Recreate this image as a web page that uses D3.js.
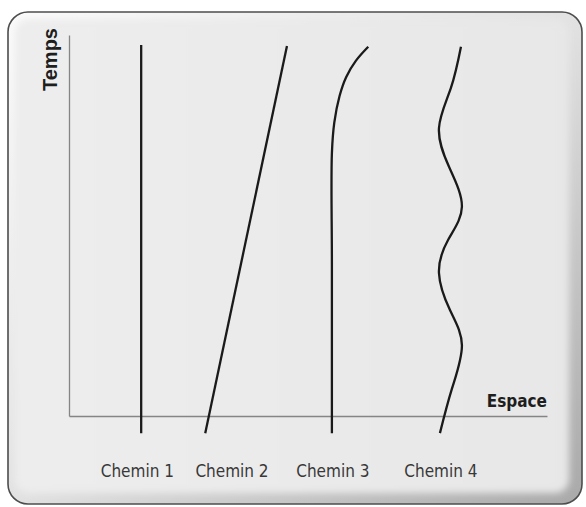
<!DOCTYPE html>
<html>
<head>
<meta charset="utf-8">
<script src="https://cdn.jsdelivr.net/npm/d3@7"></script>
<style>
  html, body { margin: 0; padding: 0; background: #fff; }
  svg { display: block; }
</style>
</head>
<body>
<svg id="chart"></svg>
<script>
// Data: each path is a list of [espace, temps] points
const chemins = ["Chemin 1", "Chemin 2", "Chemin 3", "Chemin 4"];
const labelEspace = [14.3, 34.1, 55.2, 77.8];

const chemin1 = [[15.1, -4.5], [15.1, 97.4]];
const chemin2 = [[28.5, -4.5], [45.6, 97.1]];
const chemin3 = [[55.0, -4.5], [55.0, 40.0], [55.0, 69.0], [55.5, 77.0], [56.6, 84.0],
                 [58.0, 89.0], [60.0, 93.2], [62.6, 96.9]];
const chemin4 = [[77.6, -4.5], [80.1, 7.1], [82.2, 18.6], [79.7, 27.8], [77.4, 37.5],
                 [79.3, 46.2], [82.2, 54.9], [79.5, 65.4], [77.4, 75.6], [79.9, 86.1],
                 [82.0, 96.9]];
const paths = [chemin1, chemin2, chemin3, chemin4];

const W = 586, H = 507;
const svg = d3.select("#chart").attr("width", W).attr("height", H);

// Card background
const defs = svg.append("defs");
const edge = defs.append("linearGradient").attr("id", "edge")
  .attr("x1", "0").attr("y1", "0").attr("x2", "1").attr("y2", "1");
edge.append("stop").attr("offset", "0%").attr("stop-color", "#fbfbfb");
edge.append("stop").attr("offset", "50%").attr("stop-color", "#e2e2e2");
edge.append("stop").attr("offset", "100%").attr("stop-color", "#a9a9a9");
const inner = defs.append("linearGradient").attr("id", "inner")
  .attr("x1", "0").attr("y1", "0").attr("x2", "1").attr("y2", "0");
inner.append("stop").attr("offset", "0%").attr("stop-color", "#ededed");
inner.append("stop").attr("offset", "100%").attr("stop-color", "#e7e7e7");
defs.append("filter").attr("id", "soft")
  .attr("x", "-5%").attr("y", "-5%").attr("width", "110%").attr("height", "110%")
  .append("feGaussianBlur").attr("stdDeviation", 3.5);
defs.append("clipPath").attr("id", "cardClip")
  .append("rect").attr("x", 8).attr("y", 12).attr("width", 574).attr("height", 492).attr("rx", 20);

const card = svg.append("g");
card.append("rect")
  .attr("x", 8).attr("y", 12).attr("width", 574).attr("height", 492).attr("rx", 20)
  .attr("fill", "url(#edge)");
card.append("g").attr("clip-path", "url(#cardClip)")
  .append("rect")
  .attr("x", 15).attr("y", 19).attr("width", 554).attr("height", 474).attr("rx", 14)
  .attr("fill", "url(#inner)")
  .attr("filter", "url(#soft)");
card.append("rect")
  .attr("x", 8).attr("y", 12).attr("width", 574).attr("height", 492).attr("rx", 20)
  .attr("fill", "none").attr("stroke", "#4d4d4d").attr("stroke-width", 1.6);

// Scales
const x = d3.scaleLinear().domain([0, 100]).range([69, 547]);
const y = d3.scaleLinear().domain([0, 100]).range([416, 35]);

// Axes (lines only)
const axisColor = "#858585";
const xAxis = svg.append("g").attr("transform", `translate(0,${y(0)})`)
  .call(d3.axisBottom(x).tickValues([]).tickSizeOuter(0));
const yAxis = svg.append("g").attr("transform", `translate(${x(0)},0)`)
  .call(d3.axisLeft(y).tickValues([]).tickSizeOuter(0));
[xAxis, yAxis].forEach(g => g.select(".domain")
  .attr("stroke", axisColor).attr("stroke-width", 1.3));

svg.append("text")
  .attr("x", x(100)).attr("y", 407)
  .attr("text-anchor", "end")
  .style("font", "bold 17px 'DejaVu Sans Condensed', sans-serif")
  .attr("fill", "#1e1e1e")
  .text("Espace");

svg.append("text")
  .attr("transform", "translate(57,28) rotate(-90)")
  .attr("text-anchor", "end")
  .style("font", "bold 20px 'Liberation Sans', Arial, sans-serif")
  .attr("fill", "#1e1e1e")
  .text("Temps");

// Paths: wavy path gets a natural spline, the others catmull-rom
const line = d3.line().x(d => x(d[0])).y(d => y(d[1]));

svg.selectAll(".chemin")
  .data(paths)
  .enter().append("path")
    .attr("class", "chemin")
    .attr("d", d => line.curve(d === chemin4 ? d3.curveNatural : d3.curveCatmullRom.alpha(0.5))(d))
    .attr("fill", "none")
    .attr("stroke", "#1a1a1a")
    .attr("stroke-width", 2.3);

// Labels
svg.selectAll(".label")
  .data(chemins)
  .enter().append("text")
    .attr("class", "label")
    .attr("x", (d, i) => x(labelEspace[i]))
    .attr("y", 477)
    .attr("text-anchor", "middle")
    .style("font", "17px 'DejaVu Sans Condensed', sans-serif")
    .attr("fill", "#383838")
    .text(d => d);
</script>
</body>
</html>
